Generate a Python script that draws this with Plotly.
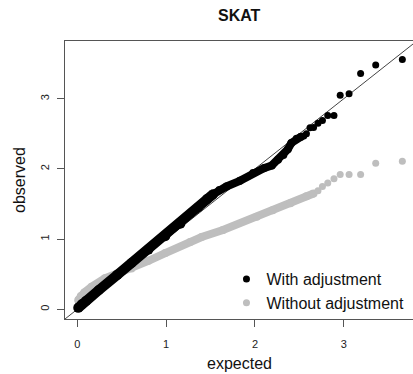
import plotly.graph_objects as go

# ---- data (expected vs observed -log10 p) ----
# dense band, with adjustment (lower, very dense part)
adj_band_lo_x = [0.01, 0.05, 0.10, 0.24, 0.45, 0.61, 0.80, 0.99, 1.16, 1.36, 1.46, 1.53]
adj_band_lo_y = [0.02, 0.07, 0.12, 0.27, 0.49, 0.66, 0.85, 1.04, 1.22, 1.45, 1.57, 1.64]
# dense band, with adjustment (upper, thinner part)
adj_band_hi_x = [1.53, 1.60, 1.68, 1.83, 1.98, 2.10, 2.19, 2.26, 2.32, 2.37, 2.41, 2.47, 2.52]
adj_band_hi_y = [1.64, 1.70, 1.75, 1.83, 1.94, 2.01, 2.05, 2.13, 2.20, 2.28, 2.37, 2.43, 2.46]
# sparse tail, with adjustment
adj_tail_x = [2.55, 2.58, 2.62, 2.66, 2.71, 2.76, 2.82, 2.89, 2.96, 3.06, 3.19, 3.36, 3.66]
adj_tail_y = [2.47, 2.50, 2.585, 2.59, 2.65, 2.69, 2.76, 2.76, 3.05, 3.07, 3.36, 3.48, 3.56]

# dense band, without adjustment
raw_band_x = [0.01, 0.04, 0.08, 0.16, 0.31, 0.45, 0.61, 0.80, 0.99, 1.27, 1.40, 1.64,
              2.02, 2.20, 2.40, 2.58, 2.66]
raw_band_y = [0.13, 0.19, 0.24, 0.32, 0.44, 0.51, 0.58, 0.69, 0.80, 0.96, 1.03, 1.13,
              1.32, 1.41, 1.51, 1.61, 1.65]
# sparse tail, without adjustment
raw_tail_x = [2.71, 2.76, 2.82, 2.89, 2.96, 3.06, 3.19, 3.36, 3.66]
raw_tail_y = [1.69, 1.75, 1.80, 1.86, 1.92, 1.92, 1.92, 2.08, 2.11]

diag = [-0.5, 4.5]
ticks = [0, 1, 2, 3]
tick_text = ["0", "1", "2", "3"]

BLACK = "#000000"
GRAY = "#bebebe"
AXIS = "#555555"
FONT = "Liberation Sans, Arial, sans-serif"

fig = go.Figure()

fig.add_trace(go.Scatter(x=diag, y=diag, mode="lines",
                         line=dict(color="#444444", width=1),
                         showlegend=False, hoverinfo="skip"))

fig.add_trace(go.Scatter(x=raw_band_x, y=raw_band_y, mode="lines+markers",
                         line=dict(color=GRAY, width=8),
                         marker=dict(color=GRAY, size=8),
                         showlegend=False))
fig.add_trace(go.Scatter(x=raw_tail_x, y=raw_tail_y, mode="markers",
                         marker=dict(color=GRAY, size=7),
                         name="Without adjustment", legendrank=2))

fig.add_trace(go.Scatter(x=adj_band_lo_x, y=adj_band_lo_y, mode="lines+markers",
                         line=dict(color=BLACK, width=10),
                         marker=dict(color=BLACK, size=10),
                         showlegend=False))
fig.add_trace(go.Scatter(x=adj_band_hi_x, y=adj_band_hi_y, mode="lines+markers",
                         line=dict(color=BLACK, width=8),
                         marker=dict(color=BLACK, size=8),
                         showlegend=False))
fig.add_trace(go.Scatter(x=adj_tail_x, y=adj_tail_y, mode="markers",
                         marker=dict(color=BLACK, size=7),
                         name="With adjustment", legendrank=1))

axis_common = dict(
    tickvals=ticks, ticktext=tick_text, ticks="outside", ticklen=7,
    tickcolor=AXIS, tickwidth=1, showline=True, linecolor=AXIS, linewidth=1,
    showgrid=False, zeroline=False, automargin=False,
    tickfont=dict(family=FONT, size=11, color="#222222"),
)

fig.update_layout(
    width=413, height=374,
    margin=dict(l=65, r=0, t=41, b=55, autoexpand=False),
    paper_bgcolor="white", plot_bgcolor="white",
    font=dict(family=FONT, color="#000000"),
    xaxis=dict(range=[-0.139, 3.78], mirror=True, ticklabelstandoff=8, **axis_common),
    yaxis=dict(range=[-0.139, 3.823], mirror=False, tickangle=-90,
               ticklabelstandoff=4, **axis_common),
    legend=dict(x=0.464, y=0.205, xanchor="left", yanchor="top",
                bgcolor="rgba(0,0,0,0)", font=dict(family=FONT, size=16, color="#111111"),
                itemsizing="trace", tracegroupgap=0, itemwidth=30),
    annotations=[
        dict(text="<b>SKAT</b>", xref="paper", yref="paper", x=0.5, y=1,
             yanchor="middle", yshift=26, showarrow=False,
             font=dict(family=FONT, size=16, color="#111111")),
        dict(text="expected", xref="paper", yref="paper", x=0.5, y=0,
             yanchor="middle", yshift=-44, showarrow=False,
             font=dict(family=FONT, size=16, color="#111111")),
        dict(text="observed", xref="paper", yref="paper", x=0, y=0.5,
             xanchor="center", xshift=-46, textangle=-90, showarrow=False,
             font=dict(family=FONT, size=16, color="#111111")),
    ],
)

fig.write_html("out.html",
               config={"displayModeBar": False},
               post_script="document.body.style.margin='0px';"
                           "document.body.style.overflow='hidden';")
